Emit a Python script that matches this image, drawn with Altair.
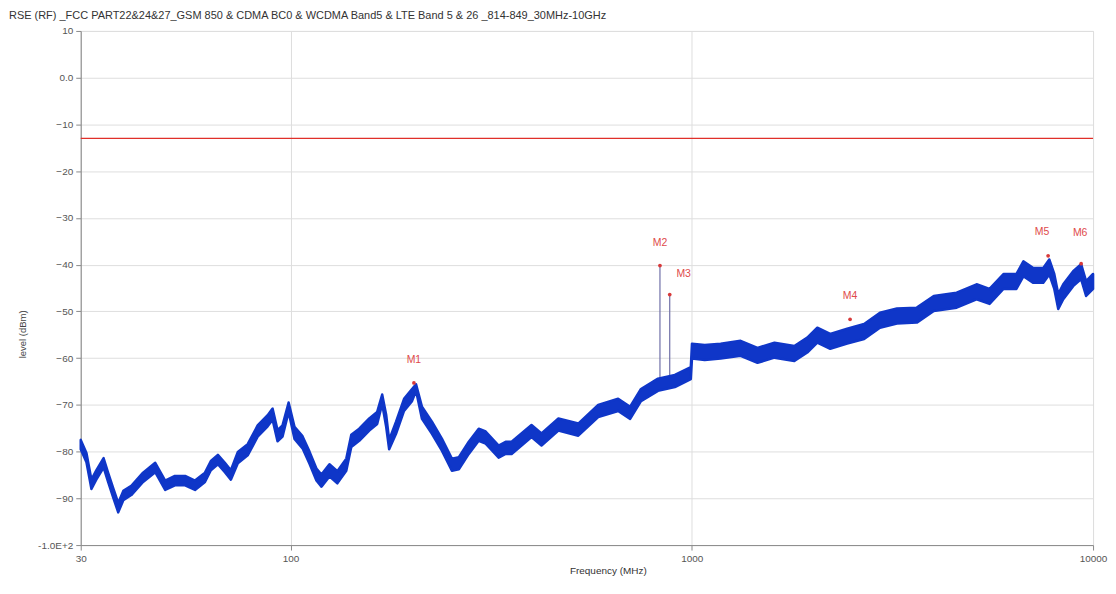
import altair as alt
import pandas as pd

TITLE = "RSE (RF)  _FCC PART22&24&27_GSM 850 & CDMA BC0 & WCDMA Band5 & LTE Band 5 & 26 _814-849_30MHz-10GHz"

# trace envelope (MHz, dBm low / high)
freq_mhz = [30, 31, 31.9, 32.8, 34.2, 35.1, 36.2, 37.2, 38.3, 40.1, 42.9, 46.0, 48.7, 51.5, 54.6,
            57.8, 61.2, 63.3, 65.9, 68.6, 71.0, 73.9, 78.2, 82.8, 87.7, 90.2, 92.8, 95.5, 98.9,
            102.3, 107.1, 111.5, 116.0, 119.4, 125.0, 130.8, 137.7, 141.7, 148.3, 157.1, 164.4,
            169.2, 173.1, 176.1, 183.2, 191.8, 200.8, 205.5, 212.6, 225.1, 238.3, 252.4, 262.7,
            278.1, 294.4, 306.4, 330.1, 343.6, 355.6, 398.6, 422.1, 465.1, 521.3, 584.4, 655.3,
            702.0, 747.0, 823.6, 907.4, 994.3,
            1001, 1077, 1180, 1323, 1458, 1607, 1801, 1940, 2055, 2213, 2439, 2688, 2944, 3245,
            3637, 4009, 4571, 5125, 5521, 5980, 6441, 6704, 7098, 7515, 7779, 8005, 8190, 8428,
            8921, 9338, 9608, 10000]
level_lo = [-79.5, -82.3, -88, -86, -83.4, -86.5, -90, -93, -90.4, -89.3, -86.5, -84.4, -88.2, -87.2, -87.2,
            -88.2, -86.5, -84, -82.7, -84.4, -86, -82.5, -80.8, -76.8, -74.6, -73.2, -77.8, -76.8, -71.5,
            -77.3, -79.3, -82.6, -86.2, -87.5, -85.3, -86.8, -84.1, -79, -77.7, -75.5, -74.1,
            -69.8, -74.7, -79.5, -76.2, -71.3, -69.2, -67, -73, -76.2, -79.8, -84.1, -83.8,
            -80.5, -77.7, -78.3, -81.3, -80.5, -80.5, -76.9, -78.7, -75.5, -76.6, -72.6, -71.3,
            -73, -69.2, -67, -66.2, -64.5,
            -60.1, -60.4, -60.1, -59.5, -61, -59.9, -60.6, -58.8, -56.7, -58, -56.9, -55.9, -53.5, -52.6,
            -52.4, -49.9, -49.2, -47.4, -48.4, -45.2, -45.2, -42.5, -43.9, -43.9, -42.1, -45.2, -49.5, -47.4,
            -44.6, -43.1, -46.7, -45.2]
level_hi = [-77.5, -80.3, -86, -84, -81.4, -84.5, -88, -91, -88.4, -87.3, -84.5, -82.4, -86.2, -85.2, -85.2,
            -86.2, -84.5, -82, -80.7, -82.4, -84, -80.1, -78.4, -74.4, -72.2, -70.8, -75.4, -74.4, -69.5,
            -74.7, -76.7, -80, -83.6, -84.9, -82.7, -84.2, -81.5, -76.4, -75.1, -72.9, -71.5,
            -67.8, -72.1, -77.5, -73.6, -68.7, -66.6, -65.6, -70.4, -73.6, -77.2, -81.5, -81.2,
            -77.9, -75.1, -75.7, -78.7, -77.9, -77.9, -74.3, -76.1, -72.9, -74, -70, -68.7,
            -70.4, -66.6, -64.4, -63.6, -61.9,
            -56.9, -57.2, -56.9, -56.3, -57.8, -56.7, -57.4, -55.6, -53.5, -54.8, -53.7, -52.7, -50.3, -49.4,
            -49.2, -46.7, -46, -44.2, -45.2, -42, -42, -39.3, -40.7, -40.7, -38.9, -42, -46.3, -44.2,
            -41.4, -39.9, -43.5, -42]

# markers
marker_names = ["M1", "M2", "M3", "M4", "M5", "M6"]
marker_freq = [203, 833, 881, 2480, 7727, 9340]
marker_level = [-65.3, -40.2, -46.4, -51.7, -38.1, -39.8]

# narrow spikes under M2 / M3
spike_freq = [833, 881]
spike_top = [-40.2, -46.4]
spike_base = [-65.0, -64.5]

limit_level = [-13]

y_ticks = [10, 0, -10, -20, -30, -40, -50, -60, -70, -80, -90, -100]
x_ticks = [30, 100, 1000, 10000]

FONT = "Liberation Sans"

trace_df = pd.DataFrame({"f": freq_mhz, "lo": level_lo, "hi": level_hi})
mk_df = pd.DataFrame({"name": marker_names, "f": marker_freq, "lv": marker_level})
sp_df = pd.DataFrame({"f": spike_freq, "top": spike_top, "base": spike_base})
lim_df = pd.DataFrame({"lv": limit_level})

xscale = alt.Scale(type="log", domain=[30, 10000], nice=False)
yscale = alt.Scale(domain=[-100, 10], nice=False)

xaxis = alt.Axis(values=x_ticks, format="d", title="Frequency (MHz)", grid=True,
                 gridColor="#dedede", domainColor="#8a8a8a", tickColor="#8a8a8a", tickSize=5,
                 labelFont=FONT, labelFontSize=10, labelColor="#555555", labelPadding=3,
                 titleFont=FONT, titleFontSize=10, titleFontWeight="normal", titleColor="#333333",
                 titleX=529, titleY=26, titleBaseline="middle", labelFlush=False)
yaxis = alt.Axis(values=y_ticks, title="level (dBm)", grid=True, gridColor="#dedede",
                 domainColor="#8a8a8a", tickColor="#8a8a8a", tickSize=5,
                 labelExpr="datum.value == 0 ? '0.0' : (datum.value == -100 ? '-1.0E+2' : datum.label)",
                 labelFont=FONT, labelFontSize=10, labelColor="#555555", labelPadding=3,
                 titleFont=FONT, titleFontSize=9.5, titleFontWeight="normal", titleColor="#444444",
                 titleAngle=-90, titleX=-58, titleY=304, titleAlign="center", titleBaseline="middle")

base_x = alt.X("f:Q", scale=xscale, axis=xaxis)

limit = alt.Chart(lim_df).mark_rule(color="#e0302a", strokeWidth=1.2).encode(
    y=alt.Y("lv:Q", scale=yscale, axis=yaxis))

spikes = alt.Chart(sp_df).mark_rule(color="#7070a8", strokeWidth=1.2).encode(
    x=alt.X("f:Q", scale=xscale), y=alt.Y("top:Q", scale=yscale), y2="base:Q")

trace = alt.Chart(trace_df).mark_area(color="#0f36c8", opacity=1, stroke="#0f36c8",
                                      strokeWidth=2.5, strokeJoin="round",
                                      interpolate="linear").encode(
    x=base_x, y=alt.Y("lo:Q", scale=yscale), y2="hi:Q")

dots = alt.Chart(mk_df).mark_circle(color="#d83a3a", size=14, opacity=1).encode(
    x=alt.X("f:Q", scale=xscale), y=alt.Y("lv:Q", scale=yscale))

def label_layer(names, dx, dy):
    return alt.Chart(mk_df).transform_filter(
        alt.FieldOneOfPredicate(field="name", oneOf=names)
    ).mark_text(color="#e04a4a", font=FONT, fontSize=10.5, dx=dx, dy=dy).encode(
        x=alt.X("f:Q", scale=xscale), y=alt.Y("lv:Q", scale=yscale), text="name:N")

labels = (label_layer(["M1", "M2", "M4"], 0, -23) + label_layer(["M3"], 14, -21)
          + label_layer(["M5"], -6, -24) + label_layer(["M6"], -1, -31))

chart = alt.layer(limit, spikes, trace, dots, labels).properties(
    width=1016, height=516,
    autosize=alt.AutoSizeParams(type="none"),
    padding={"left": 73, "top": 22, "right": 15, "bottom": 30},
    title=alt.TitleParams(text=TITLE, anchor="start", frame="group", dx=-72, offset=5,
                          font=FONT, fontSize=11, fontWeight="normal", color="#333333"),
).configure_view(stroke="#a8a8a8").configure(background="white")

chart.save("out.html", embed_options={"renderer": "svg", "actions": False})
